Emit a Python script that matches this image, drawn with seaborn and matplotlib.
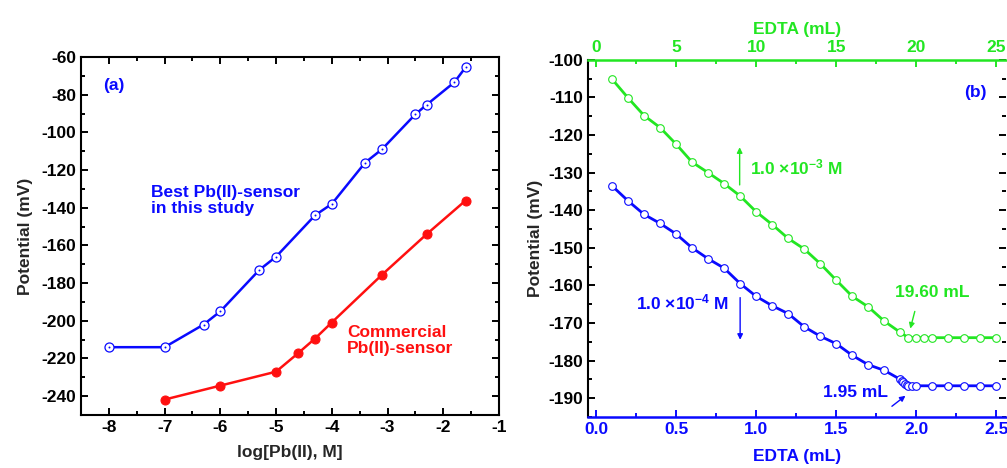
import matplotlib
matplotlib.use("Agg")
import matplotlib.pyplot as plt
from matplotlib.ticker import MultipleLocator, FormatStrFormatter
import seaborn as sns

# ---- panel (a): calibration curves ----
log_pb_best = [-8, -7, -6.3, -6, -5.3, -5, -4.3, -4, -3.4, -3.1, -2.5, -2.3, -1.8, -1.6]
pot_best = [-214, -214, -202, -195, -173, -166, -144, -138, -116, -109, -90.4, -85.4, -73.4, -65.5]
log_pb_comm = [-7, -6, -5, -4.6, -4.3, -4, -3.1, -2.3, -1.6]
pot_comm = [-241.8, -234.4, -227, -217.1, -209.4, -200.9, -175.6, -154.1, -136.2]

# ---- panel (b): EDTA titrations ----
edta_low = [0.1, 0.2, 0.3, 0.4, 0.5, 0.6, 0.7, 0.8, 0.9, 1.0, 1.1, 1.2, 1.3, 1.4, 1.5,
            1.6, 1.7, 1.8, 1.90, 1.91, 1.92, 1.93, 1.94, 1.95, 1.97, 2.0,
            2.1, 2.2, 2.3, 2.4, 2.5]
pot_low = [-133.5, -137.5, -141.1, -143.5, -146.3, -150.0, -152.9, -155.4, -159.5, -162.9,
           -165.4, -167.5, -171.0, -173.5, -175.5, -178.6, -181.1, -182.6,
           -185.0, -185.4, -185.8, -186.1, -186.4, -186.7, -186.7, -186.7,
           -186.7, -186.7, -186.7, -186.7, -186.7]
edta_high = [1, 2, 3, 4, 5, 6, 7, 8, 9, 10, 11, 12, 13, 14, 15, 16, 17, 18, 19,
             19.5, 20, 20.5, 21, 22, 23, 24, 25]
pot_high = [-105.1, -110.1, -114.8, -118.0, -122.4, -127.2, -130.0, -132.9, -136.2, -140.4,
            -143.8, -147.5, -150.3, -154.2, -158.6, -162.9, -165.7, -169.5, -172.5,
            -173.9, -173.9, -173.9, -173.9, -173.9, -173.9, -173.9, -173.9]

BLUE = "#0a0aff"
RED = "#ff1010"
GREEN = "#22e622"

sns.set_style("ticks")
plt.rcParams["font.family"] = ["Liberation Sans", "DejaVu Sans"]
plt.rcParams["font.weight"] = "bold"
plt.rcParams["axes.labelweight"] = "bold"
plt.rcParams["axes.unicode_minus"] = False
plt.rcParams["mathtext.fontset"] = "custom"
plt.rcParams["mathtext.rm"] = "Liberation Sans:bold"
plt.rcParams["mathtext.bf"] = "Liberation Sans:bold"
plt.rcParams["mathtext.default"] = "bf"

fig = plt.figure(figsize=(10.07, 4.68), dpi=100)
axa = fig.add_axes([0.0804, 0.1132, 0.4151, 0.7650])
axb = fig.add_axes([0.5839, 0.1090, 0.4151, 0.7630])

# ---------------- panel (a) ----------------
sns.lineplot(x=log_pb_best, y=pot_best, ax=axa, color=BLUE, lw=1.8, sort=False,
             marker="o", markersize=6.5, markerfacecolor="white",
             markeredgecolor=BLUE, markeredgewidth=0.9)
sns.scatterplot(x=log_pb_best, y=pot_best, ax=axa, color=BLUE, s=2, linewidth=0, zorder=5)
sns.lineplot(x=log_pb_comm, y=pot_comm, ax=axa, color=RED, lw=1.8, sort=False,
             marker="o", markersize=6.5, markerfacecolor=RED, markeredgecolor=RED)

axa.set_xlim(-8.5, -1)
axa.set_ylim(-250, -60)
axa.xaxis.set_major_locator(MultipleLocator(1))
axa.xaxis.set_minor_locator(MultipleLocator(0.5))
axa.yaxis.set_major_locator(MultipleLocator(20))
axa.yaxis.set_minor_locator(MultipleLocator(10))
axa.tick_params(which="both", direction="in", top=True, right=True, width=1.4,
                labelsize=12.5, colors="black")
axa.tick_params(which="major", length=5)
axa.tick_params(which="minor", length=3)
for s in axa.spines.values():
    s.set_linewidth(1.5)
    s.set_color("black")
for lab in axa.get_xticklabels() + axa.get_yticklabels():
    lab.set_fontweight("bold")
axa.set_xlabel("log[Pb(II), M]", fontsize=12.5, fontweight="bold", labelpad=7)
axa.set_ylabel("Potential (mV)", fontsize=12.5, fontweight="bold", labelpad=6)

axa.text(-8.1, -75, "(a)", color=BLUE, fontsize=12.5, fontweight="bold", va="center")
axa.text(-7.24, -136, "Best Pb(II)-sensor\nin this study", color=BLUE, fontsize=12.5,
         fontweight="bold", va="center", linespacing=1.1)
axa.text(-3.73, -210.5, "Commercial\nPb(II)-sensor", color=RED, fontsize=12.5,
         fontweight="bold", va="center", linespacing=1.1)

# ---------------- panel (b) ----------------
axt = axb.twiny()
sns.lineplot(x=edta_low, y=pot_low, ax=axb, color=BLUE, lw=2, sort=False,
             marker="o", markersize=5.5, markerfacecolor="white",
             markeredgecolor=BLUE, markeredgewidth=0.8)
sns.lineplot(x=edta_high, y=pot_high, ax=axt, color=GREEN, lw=2, sort=False,
             marker="o", markersize=5.5, markerfacecolor="white",
             markeredgecolor=GREEN, markeredgewidth=0.8)

axb.set_xlim(-0.05, 2.56)
axt.set_xlim(-0.5, 25.6)
axb.set_ylim(-195, -100)
axb.xaxis.set_major_locator(MultipleLocator(0.5))
axb.xaxis.set_minor_locator(MultipleLocator(0.25))
axb.yaxis.set_major_locator(MultipleLocator(10))
axb.yaxis.set_minor_locator(MultipleLocator(5))
axt.xaxis.set_major_locator(MultipleLocator(5))
axt.xaxis.set_minor_locator(MultipleLocator(2.5))
axb.xaxis.set_major_formatter(FormatStrFormatter("%.1f"))

axb.spines["top"].set_visible(False)
axb.spines["right"].set_visible(False)
axb.spines["bottom"].set_color(BLUE)
axb.spines["bottom"].set_linewidth(1.8)
axb.spines["left"].set_color("black")
axb.spines["left"].set_linewidth(1.5)
for side in ["left", "right", "bottom"]:
    axt.spines[side].set_visible(False)
axt.spines["top"].set_color(GREEN)
axt.spines["top"].set_linewidth(1.8)

axb.tick_params(axis="x", which="both", direction="in", top=False, colors=BLUE,
                width=1.4, labelsize=12.5)
axb.tick_params(axis="y", which="both", direction="in", left=True, right=True,
                colors="black", width=1.4, labelsize=12.5)
axt.tick_params(axis="x", which="both", direction="in", colors=GREEN, width=1.4,
                labelsize=12.5)
for ax_ in (axb, axt):
    ax_.tick_params(which="major", length=5)
    ax_.tick_params(which="minor", length=3)
# faint grey ticks on the (cut off) right side
for t in axb.yaxis.get_major_ticks() + axb.yaxis.get_minor_ticks():
    t.tick2line.set_color("#aaaaaa")
for lab in axb.get_xticklabels() + axb.get_yticklabels() + axt.get_xticklabels():
    lab.set_fontweight("bold")

axb.set_xlabel("EDTA (mL)", color=BLUE, fontsize=12.5, fontweight="bold", labelpad=9)
axt.set_xlabel("EDTA (mL)", color=GREEN, fontsize=12.5, fontweight="bold", labelpad=4)
axb.set_ylabel("Potential (mV)", fontsize=12.5, fontweight="bold", labelpad=4)

axb.text(2.3, -108.8, "(b)", color=BLUE, fontsize=12.5, fontweight="bold", va="center")

# 1e-3 M titration labels (top scale)
axt.annotate("", xy=(8.97, -122.5), xytext=(8.97, -134),
             arrowprops=dict(arrowstyle="-|>", color=GREEN, lw=1, mutation_scale=8))
axt.text(9.6, -128.5, "1.0 ×10$^{-3}$ M", color=GREEN, fontsize=12.5,
         fontweight="bold", va="center")
axt.text(18.7, -162, "19.60 mL", color=GREEN, fontsize=12.5, fontweight="bold",
         va="center")
axt.annotate("", xy=(19.58, -172.2), xytext=(19.95, -166.2),
             arrowprops=dict(arrowstyle="-|>", color=GREEN, lw=1, mutation_scale=8))

# 1e-4 M titration labels (bottom scale)
axb.annotate("", xy=(0.9, -175.2), xytext=(0.9, -162.5),
             arrowprops=dict(arrowstyle="-|>", color=BLUE, lw=1, mutation_scale=8))
axb.text(0.25, -164.6, "1.0 ×10$^{-4}$ M", color=BLUE, fontsize=12.5,
         fontweight="bold", va="center")
axb.text(1.416, -188.6, "1.95 mL", color=BLUE, fontsize=12.5, fontweight="bold",
         va="center")
axb.annotate("", xy=(1.946, -188.9), xytext=(1.834, -192.6),
             arrowprops=dict(arrowstyle="-|>", color=BLUE, lw=1, mutation_scale=8))

fig.savefig("out.png", dpi=100)
